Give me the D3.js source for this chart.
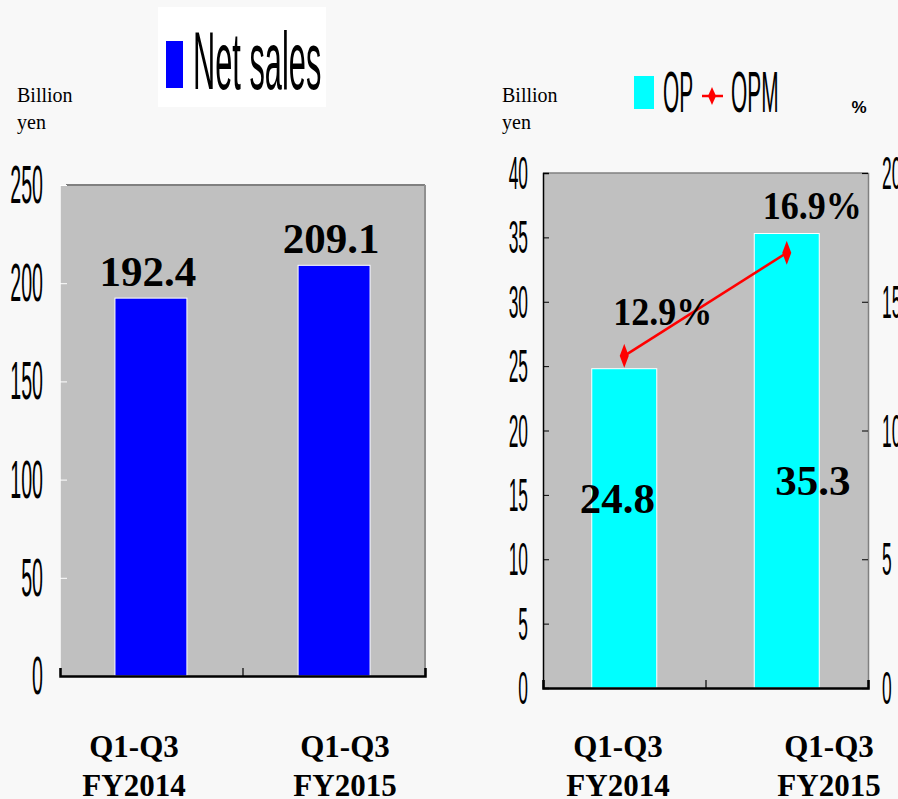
<!DOCTYPE html>
<html>
<head>
<meta charset="utf-8">
<script src="https://cdn.jsdelivr.net/npm/d3@7"></script>
<style>
  body { margin: 0; background: #f8f8f8; }
  svg { display: block; }
</style>
</head>
<body>
<svg id="chart" width="898" height="799"></svg>
<script>
// data
var categories = ["Q1-Q3 FY2014", "Q1-Q3 FY2015"];
var catLines = [["Q1-Q3", "FY2014"], ["Q1-Q3", "FY2015"]];
var netSales = [192.4, 209.1];
var op = [24.8, 35.3];
var opm = [12.9, 16.9];
var salesTicks = [0, 50, 100, 150, 200, 250];
var opTicks = [0, 5, 10, 15, 20, 25, 30, 35, 40];
var opmTicks = [0, 5, 10, 15, 20];

var svg = d3.select("#chart");
var narrow = "'Liberation Sans', Arial, sans-serif";
var serif = "'Liberation Serif', 'Times New Roman', serif";
var sx = 0.37;   // squeeze for the narrow sans labels

function tickText(g, size, xOff, anchor) {
  g.selectAll(".tick text")
    .attr("font-family", narrow)
    .attr("font-size", size)
    .attr("fill", "#000")
    .attr("text-anchor", anchor)
    .attr("x", xOff / sx)
    .attr("dy", "0.33em")
    .attr("transform", `scale(${sx},1)`);
}

function billion(x) {
  var t = svg.append("text").attr("font-family", serif).attr("font-size", 20).attr("fill", "#000");
  t.append("tspan").attr("x", x).attr("y", 102).text("Billion");
  t.append("tspan").attr("x", x).attr("y", 129).text("yen");
}

// ---------- left: net sales ----------
var L = { left: 60, right: 425, top: 185, bottom: 676 };
var x1 = d3.scaleBand().domain(categories).range([L.left, L.right]).paddingInner(0.607).paddingOuter(0.3);
var y1 = d3.scaleLinear().domain([0, 250]).range([L.bottom, L.top]);
var lab1 = d3.scalePoint().domain(categories).range([134, 345]);

svg.append("rect")
  .attr("x", L.left).attr("y", L.top)
  .attr("width", L.right - L.left).attr("height", L.bottom - L.top)
  .attr("fill", "#c0c0c0");

svg.append("line").attr("x1", L.left + 6).attr("x2", L.right).attr("y1", L.top).attr("y2", L.top)
  .attr("stroke", "#808080").attr("stroke-width", 2);
svg.append("line").attr("x1", L.right).attr("x2", L.right).attr("y1", L.top).attr("y2", L.bottom)
  .attr("stroke", "#909090").attr("stroke-width", 2);

svg.selectAll(".ns").data(netSales).enter().append("rect")
  .attr("x", (d, i) => x1(categories[i]))
  .attr("y", d => y1(d))
  .attr("width", x1.bandwidth())
  .attr("height", d => y1(0) - y1(d))
  .attr("fill", "#0000ff")
  .attr("stroke", "#ffffff").attr("stroke-width", 1);

var ax1 = svg.append("g").attr("transform", `translate(${L.left},0)`)
  .call(d3.axisLeft(y1).tickValues(salesTicks).tickSize(-7).tickFormat(d3.format("d")));
ax1.select(".domain").attr("stroke", "#eeeeee");
ax1.selectAll(".tick line").attr("stroke", "#ffffff");
tickText(ax1, 53, -17, "end");

var bx1 = svg.append("g").attr("transform", `translate(0,${L.bottom})`)
  .call(d3.axisBottom(d3.scaleLinear().domain([0, 2]).range([L.left, L.right])).ticks(2).tickSize(-8).tickFormat(""));
bx1.select(".domain").attr("stroke", "#000").attr("stroke-width", 2.5);
bx1.selectAll(".tick line").attr("stroke", "#000").attr("stroke-width", 1.2);

svg.selectAll(".nsl").data(netSales).enter().append("text")
  .attr("x", (d, i) => x1(categories[i]) + x1.bandwidth() / 2 - 3)
  .attr("y", d => y1(d) - 12)
  .attr("text-anchor", "middle")
  .attr("font-family", serif).attr("font-weight", "bold").attr("font-size", 43)
  .text(d => d.toFixed(1));

catLines.forEach(function (lines, i) {
  lines.forEach(function (s, j) {
    svg.append("text")
      .attr("x", lab1(categories[i])).attr("y", 757 + j * 39)
      .attr("text-anchor", "middle")
      .attr("font-family", serif).attr("font-weight", "bold").attr("font-size", 31)
      .text(s);
  });
});

// legend left
svg.append("rect").attr("x", 158).attr("y", 7).attr("width", 168).attr("height", 100).attr("fill", "#ffffff");
svg.append("rect").attr("x", 166).attr("y", 41).attr("width", 17).attr("height", 47).attr("fill", "#0000ff");
svg.append("text").attr("transform", `translate(193,89) scale(0.38,1)`)
  .attr("font-family", narrow).attr("font-size", 81).text("Net sales");

billion(17);

// ---------- right: OP and OPM ----------
var R = { left: 543, right: 868, top: 173, bottom: 688 };
var x2 = d3.scaleBand().domain(categories).range([R.left, R.right]).paddingInner(0.6).paddingOuter(0.3);
var y2 = d3.scaleLinear().domain([0, 40]).range([R.bottom, R.top]);
var y3 = d3.scaleLinear().domain([0, 20]).range([R.bottom, R.top]);
var lab2 = d3.scalePoint().domain(categories).range([618, 829]);

svg.append("rect")
  .attr("x", R.left).attr("y", R.top)
  .attr("width", R.right - R.left).attr("height", R.bottom - R.top)
  .attr("fill", "#c0c0c0");
svg.append("line").attr("x1", R.left).attr("x2", R.right).attr("y1", R.top).attr("y2", R.top)
  .attr("stroke", "#808080").attr("stroke-width", 1.5);

svg.selectAll(".op").data(op).enter().append("rect")
  .attr("x", (d, i) => x2(categories[i]))
  .attr("y", d => y2(d))
  .attr("width", x2.bandwidth())
  .attr("height", d => y2(0) - y2(d))
  .attr("fill", "#00ffff")
  .attr("stroke", "#ffffff").attr("stroke-width", 1);

var ax2 = svg.append("g").attr("transform", `translate(${R.left},0)`)
  .call(d3.axisLeft(y2).tickValues(opTicks).tickSize(-6).tickFormat(d3.format("d")));
ax2.select(".domain").attr("stroke", "#000").attr("stroke-width", 1.5);
ax2.selectAll(".tick line").attr("stroke", "#000");
tickText(ax2, 47, -15, "end");

var ax3 = svg.append("g").attr("transform", `translate(${R.right},0)`)
  .call(d3.axisRight(y3).tickValues(opmTicks).tickSize(-6).tickFormat(d3.format("d")));
ax3.select(".domain").attr("stroke", "#808080").attr("stroke-width", 1.5);
ax3.selectAll(".tick line").attr("stroke", "#000");
tickText(ax3, 47, 14, "start");

var bx2 = svg.append("g").attr("transform", `translate(0,${R.bottom})`)
  .call(d3.axisBottom(d3.scaleLinear().domain([0, 2]).range([R.left, R.right])).ticks(2).tickSize(-8).tickFormat(""));
bx2.select(".domain").attr("stroke", "#000").attr("stroke-width", 2.5);
bx2.selectAll(".tick line").attr("stroke", "#000").attr("stroke-width", 1.2);

// OPM line
var cx = (d, i) => x2(categories[i]) + x2.bandwidth() / 2;
svg.append("path")
  .datum(opm)
  .attr("d", d3.line().x(cx).y(d => y3(d)))
  .attr("fill", "none").attr("stroke", "#ff0000").attr("stroke-width", 2.5);
var diamond = "M0,-12L4.5,0L0,12L-4.5,0Z";
svg.selectAll(".opmk").data(opm).enter().append("path")
  .attr("d", diamond)
  .attr("transform", (d, i) => `translate(${cx(d, i)},${y3(d)})`)
  .attr("fill", "#ff0000");

// labels
var opLabelY = [513, 495];
svg.selectAll(".opl").data(op).enter().append("text")
  .attr("x", (d, i) => cx(d, i) + [-7, 26][i])
  .attr("y", (d, i) => opLabelY[i])
  .attr("text-anchor", "middle")
  .attr("font-family", serif).attr("font-weight", "bold").attr("font-size", 43)
  .text(d => d.toFixed(1));

svg.selectAll(".opml").data(opm).enter().append("text")
  .attr("x", (d, i) => cx(d, i) + [38, 25][i] - 49)
  .attr("y", (d, i) => y3(d) + [-31, -34][i])
  .attr("font-family", serif).attr("font-weight", "bold").attr("font-size", 40)
  .attr("textLength", 99).attr("lengthAdjust", "spacingAndGlyphs")
  .text(d => d.toFixed(1) + "%");

catLines.forEach(function (lines, i) {
  lines.forEach(function (s, j) {
    svg.append("text")
      .attr("x", lab2(categories[i])).attr("y", 757 + j * 39)
      .attr("text-anchor", "middle")
      .attr("font-family", serif).attr("font-weight", "bold").attr("font-size", 31)
      .text(s);
  });
});

// legend right
svg.append("rect").attr("x", 634).attr("y", 76).attr("width", 20).attr("height", 33).attr("fill", "#00ffff");
svg.append("text").attr("transform", `translate(663,112) scale(0.36,1)`)
  .attr("font-family", narrow).attr("font-size", 58).text("OP");
svg.append("line").attr("x1", 702).attr("x2", 723).attr("y1", 96).attr("y2", 96)
  .attr("stroke", "#ff0000").attr("stroke-width", 2.5);
svg.append("path").attr("d", "M0,-9L4,0L0,9L-4,0Z").attr("transform", "translate(712,96)").attr("fill", "#ff0000");
svg.append("text").attr("transform", `translate(731,112) scale(0.36,1)`)
  .attr("font-family", narrow).attr("font-size", 58).text("OPM");

svg.append("text").attr("x", 859).attr("y", 113).attr("text-anchor", "middle")
  .attr("font-family", narrow).attr("font-weight", "bold").attr("font-size", 17).text("%");

billion(502);
</script>
</body>
</html>
